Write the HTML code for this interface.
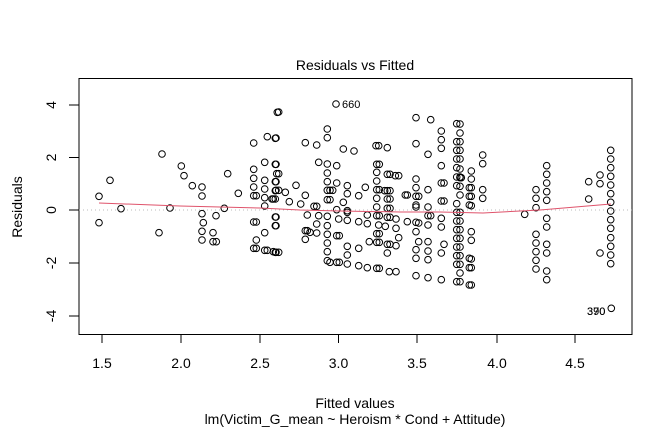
<!DOCTYPE html>
<html><head><meta charset="utf-8"><style>
html,body{margin:0;padding:0;background:#fff;}
svg{display:block;font-family:"Liberation Sans",Arial,sans-serif;}
</style></head><body>
<svg id="s" width="672" height="432" viewBox="0 0 672 432" xmlns="http://www.w3.org/2000/svg">
<rect width="672" height="432" fill="#fff"/>
<text x="355" y="70" font-size="14" text-anchor="middle">Residuals vs Fitted</text>
<rect x="79" y="78.5" width="553" height="256" fill="none" stroke="#000" stroke-width="1"/>
<g stroke="#000" stroke-width="1">
<line x1="102" y1="334.5" x2="575" y2="334.5"/>
<line x1="102" y1="334" x2="102" y2="343"/><line x1="181" y1="334" x2="181" y2="343"/>
<line x1="260" y1="334" x2="260" y2="343"/><line x1="338.5" y1="334" x2="338.5" y2="343"/>
<line x1="417" y1="334" x2="417" y2="343"/><line x1="497" y1="334" x2="497" y2="343"/>
<line x1="575" y1="334" x2="575" y2="343"/>
<line x1="69" y1="105" x2="79" y2="105"/><line x1="69" y1="157.5" x2="79" y2="157.5"/>
<line x1="69" y1="210" x2="79" y2="210"/><line x1="69" y1="263" x2="79" y2="263"/>
<line x1="69" y1="316" x2="79" y2="316"/>
</g>
<g font-size="14" text-anchor="middle">
<text x="102" y="368">1.5</text><text x="181" y="368">2.0</text><text x="260" y="368">2.5</text>
<text x="338.5" y="368">3.0</text><text x="417" y="368">3.5</text><text x="497" y="368">4.0</text>
<text x="575" y="368">4.5</text>
<text transform="translate(56,105) rotate(-90)">4</text>
<text transform="translate(56,157.5) rotate(-90)">2</text>
<text transform="translate(56,210) rotate(-90)">0</text>
<text transform="translate(56,263) rotate(-90)">-2</text>
<text transform="translate(56,316) rotate(-90)">-4</text>
<text transform="translate(22,207) rotate(-90)">Residuals</text>
<text x="355" y="408">Fitted values</text>
<text x="355" y="424">lm(Victim_G_mean ~ Heroism * Cond + Attitude)</text>
</g>
<line x1="79" y1="210" x2="632" y2="210" stroke="#bbb" stroke-dasharray="1,3"/>
<g id="pts" fill="none" stroke="#000" stroke-width="1"></g>
<polyline points="99,203 180,206 260,208 300,210 340,211 400,212 440,212 483,213 540,210 611,204" fill="none" stroke="#DF536B" stroke-width="1"/>
<text x="342" y="108" font-size="11">660</text>
<text x="587" y="315" font-size="11">390</text>
<text x="587" y="315" font-size="11">370</text>
</svg>
<script>
var z1=[[63,352],[63,431],[96,304],[129,389],[243,461],[252,225],[276,387],[310,261],[318,290],[343,320],[372,324],[372,351],[372,404],[376,431],[372,457],[372,483],[405,461],[405,488],[415,488],[414,410],[439,388],[449,284],[481,343],[527,192],[527,271],[527,298],[527,324],[527,350],[535,350],[527,429],[535,429],[535,483],[527,508],[535,508],[560,250],[568,173],[560,304],[560,330],[560,356],[560,381],[560,461],[560,514],[568,514],[592,178],[592,256],[592,308],[592,335],[592,360],[592,414],[592,440],[592,520],[598,100],[582,360],[596,284]];
var z2=[[198,75],[26,99],[18,177],[18,256],[26,284],[18,308],[18,334],[26,334],[46,340],[10,360],[18,414],[18,440],[10,518],[18,520],[26,520],[78,319],[58,368],[92,375],[106,349],[106,191],[140,198],[112,408],[132,382],[140,382],[140,435],[146,410],[106,455],[112,455],[120,460],[140,462],[106,481],[146,250],[172,150],[172,176],[172,255],[172,282],[172,308],[172,334],[180,334],[188,334],[172,362],[180,362],[172,412],[172,440],[172,466],[172,492],[172,518],[172,545],[180,550],[200,550],[208,550],[200,470],[208,470],[200,260],[200,312],[200,392],[220,210],[252,216],[220,370],[232,320],[232,344],[232,395],[232,400],[232,424],[232,502],[232,528],[232,555],[206,420],[266,350],[266,428],[266,508],[266,560],[286,325],[292,408],[292,434],[292,566],[298,488],[318,200],[326,200],[320,256],[328,256],[320,280],[320,306],[320,332],[328,332],[320,358],[320,384],[320,410],[328,410],[326,438],[320,464],[328,464],[320,490],[328,490],[320,568],[328,568],[352,206],[352,286],[360,286],[376,290],[386,290],[344,335],[352,335],[360,335],[352,360],[360,360],[352,388],[360,388],[352,415],[360,415],[346,442],[378,420],[378,448],[386,476],[352,496],[360,496],[378,500],[352,522],[358,578],[378,578],[406,348],[412,348],[412,428],[438,116],[438,194],[438,300],[438,326],[438,352],[446,352],[438,378],[438,384],[438,430],[446,432],[438,458],[446,488],[438,512],[438,538],[438,590],[474,226],[474,332],[474,384],[474,410],[482,410],[474,438],[474,488],[474,516],[474,542],[474,596],[482,122],[514,156],[514,182],[514,208],[514,260],[514,312],[522,312],[514,366],[522,366],[514,418],[514,444],[514,522],[522,496],[514,602],[560,134],[560,188],[560,214],[560,240],[560,266],[560,294],[570,294],[560,320],[560,374],[560,400],[560,426],[560,452],[560,478],[560,504],[560,530],[560,556],[560,608],[598,326],[598,352],[598,378],[598,538],[598,566],[598,618]];
var z3=[[0,135],[0,162],[0,188],[0,214],[0,240],[0,270],[0,296],[4,296],[0,322],[0,348],[0,400],[0,426],[0,452],[0,478],[0,504],[0,530],[0,556],[0,582],[0,608],[34,276],[34,300],[34,326],[34,352],[34,380],[34,458],[34,484],[34,540],[34,566],[34,618],[68,228],[68,254],[68,332],[68,358],[194,406],[228,332],[228,358],[228,386],[228,466],[228,492],[228,518],[228,544],[228,570],[260,260],[260,286],[260,312],[260,338],[260,364],[260,418],[260,444],[260,496],[260,522],[260,576],[260,602],[386,308],[386,360],[420,288],[420,314],[420,522],[452,214],[452,240],[452,266],[452,292],[452,318],[452,344],[452,370],[452,396],[452,422],[452,448],[452,476],[452,502],[452,528],[452,554],[454,688]];
var g=document.getElementById('pts'),ns='http://www.w3.org/2000/svg';
function add(a,ox,oy){a.forEach(function(p){var c=document.createElementNS(ns,'circle');c.setAttribute('cx',(ox+p[0]/3).toFixed(1));c.setAttribute('cy',(oy+p[1]/3).toFixed(1));c.setAttribute('r','3.3');g.appendChild(c);});}
add(z1,78,79);add(z2,270,79);add(z3,460,79);
</script>
</body></html>
